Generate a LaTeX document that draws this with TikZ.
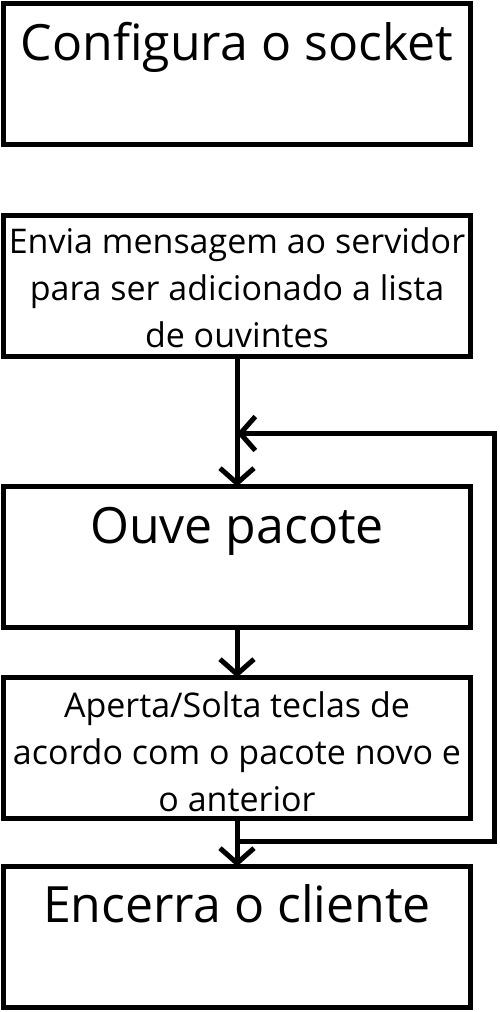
\documentclass[tikz,border=0pt]{standalone}
\usepackage{fontspec}
\setmainfont{Open Sans}
\usepackage{tikz}
\usetikzlibrary{positioning,arrows.meta}

\begin{document}
\begin{tikzpicture}[x=1pt, y=1pt,
caixa/.style={rectangle, draw=black, line width=5pt, outer sep=0pt, minimum width=467pt, minimum height=141pt},
titulo/.style={font=\fontsize{50}{60}\selectfont, inner sep=0pt, anchor=base},
texto/.style={font=\fontsize{34}{47}\selectfont, align=center, inner sep=0pt, anchor=base},
seta/.style={line width=5pt, -{Straight Barb[length=15pt, width=34pt]}}
]
\useasboundingbox (0,0) rectangle (499,-1012);
%Nodes
\node[caixa]      (b1)     at (237,-74)            {};
\node[caixa]      (b2)     [below=71pt of b1]      {};
\node[caixa]      (b3)     [below=130pt of b2]     {};
\node[caixa]      (b4)     [below=50pt of b3]      {};
\node[caixa]      (b5)     [below=48pt of b4]      {};
%Texts (base = last line)
\node[titulo]     (t1)     at ([yshift=-57pt]b1.north)    {Configura o socket};
\node[texto]      (t2)     at ([yshift=-132pt]b2.north)   {Envia mensagem ao servidor\\para ser adicionado a lista\\de ouvintes};
\node[titulo]     (t3)     at ([yshift=-57pt]b3.north)    {Ouve pacote};
\node[texto]      (t4)     at ([yshift=-134pt]b4.north)   {Aperta/Solta teclas de\\acordo com o pacote novo e\\o anterior};
\node[titulo]     (t5)     at ([yshift=-56pt]b5.north)    {Encerra o cliente};
%Lines
\coordinate (saida)   at ([yshift=-23pt]b4.south);
\coordinate (canto1)  at ([xshift=24pt]b4.east |- saida);
\coordinate (entrada) at ([yshift=53pt]b3.north);
\coordinate (canto2)  at (canto1 |- entrada);
\draw[seta] (b2) -- (b3);
\draw[seta] (b3) -- (b4);
\draw[seta] (b4) -- (b5);
\draw[seta] (saida) -- (canto1) -- (canto2) -- (entrada);
\end{tikzpicture}
\end{document}
